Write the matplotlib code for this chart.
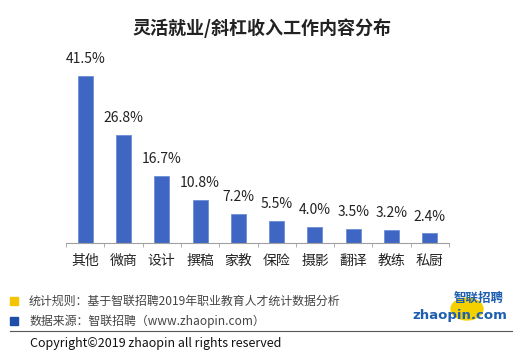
import matplotlib.pyplot as plt
from matplotlib.patches import Rectangle, Circle

plt.rcParams['font.family'] = ['Noto Sans CJK SC', 'DejaVu Sans']

categories = ['其他', '微商', '设计', '撰稿', '家教', '保险', '摄影', '翻译', '教练', '私厨']
values = [41.5, 26.8, 16.7, 10.8, 7.2, 5.5, 4.0, 3.5, 3.2, 2.4]

W, H = 521, 356
fig = plt.figure(figsize=(W / 100, H / 100), dpi=100)

# plot area: baseline at y=243px, left 66px, right 449px
ax = fig.add_axes([66 / W, 1 - 243 / H, (449 - 66) / W, (243 - 56) / H])
x = list(range(len(categories)))
ax.bar(x, values, width=0.39, color='#3F66C2', edgecolor='#6E8FD6', linewidth=0.6)
ax.set_xlim(-0.5, len(categories) - 0.5)
ax.set_ylim(0, (243 - 56) / 4.024)

for xi, v in zip(x, values):
    ax.annotate(f'{v:.1f}%', (xi, v), xytext=(0, 7), textcoords='offset points',
                ha='center', va='bottom', fontsize=10, color='#222222')

for s in ['top', 'right', 'left']:
    ax.spines[s].set_visible(False)
ax.spines['bottom'].set_color('#A0A0A0')
ax.set_yticks([])
ax.set_xticks(x)
ax.set_xticklabels(categories, fontsize=10, color='#222222')
ax.tick_params(axis='x', which='major', length=0, pad=8)
ax.set_xticks([i - 0.5 for i in range(len(categories) + 1)], minor=True)
ax.tick_params(axis='x', which='minor', length=3, color='#A0A0A0', direction='out')

fig.text(262 / W, 1 - 28 / H, '灵活就业/斜杠收入工作内容分布', ha='center', va='center',
         fontsize=13, fontweight='bold', color='#222222')

# footer
fig.patches.append(Rectangle((10 / W, 1 - 305 / H), 8 / W, 8 / H, transform=fig.transFigure,
                             color='#F5C400', figure=fig))
fig.patches.append(Rectangle((10 / W, 1 - 325 / H), 8 / W, 8 / H, transform=fig.transFigure,
                             color='#1F4EA8', figure=fig))
fig.text(29 / W, 1 - 301 / H, '统计规则：基于智联招聘2019年职业教育人才统计数据分析',
         fontsize=8.6, va='center', color='#444444')
fig.text(29 / W, 1 - 321 / H, '数据来源：智联招聘（www.zhaopin.com）',
         fontsize=8.6, va='center', color='#444444')
fig.add_artist(plt.Line2D([10 / W, 512 / W], [1 - 331 / H, 1 - 331 / H], color='#555555', lw=0.8))
fig.text(30 / W, 1 - 343 / H, 'Copyright©2019 zhaopin all rights reserved',
         fontsize=9, va='center', color='#111111')

# logo
fig.patches.append(Circle((467 / W, 1 - 309 / H), 16 / W, transform=fig.transFigure,
                          color='#F5D000', figure=fig))
fig.text(479 / W, 1 - 298 / H, '智联招聘', fontsize=9, fontweight='bold', ha='center',
         va='center', color='#1F5FB0')
fig.text(460 / W, 1 - 315 / H, 'zhaopin.com', fontsize=9.5, fontweight='bold', ha='center',
         va='center', color='#1F5FB0', family='DejaVu Sans')

fig.savefig('out.png', dpi=100)
